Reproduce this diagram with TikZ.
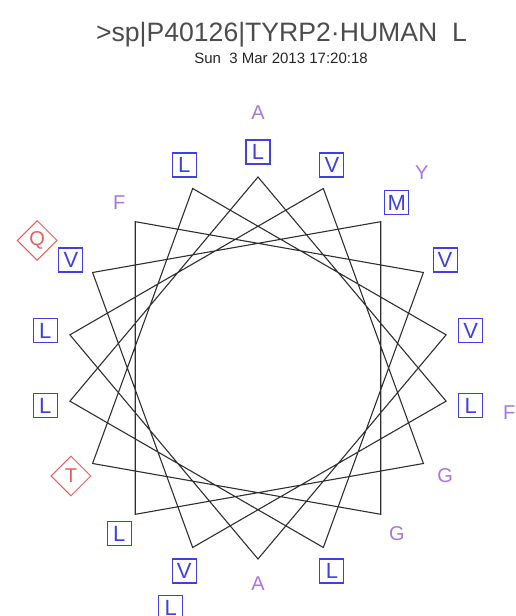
\documentclass[tikz,border=0pt]{standalone}
\usepackage{fontspec}
\setmainfont{Liberation Sans}
\usetikzlibrary{shapes.geometric}
\definecolor{hydblue}{RGB}{64,64,224}
\definecolor{othpurple}{RGB}{166,120,222}
\definecolor{polred}{RGB}{228,96,96}
\definecolor{wheelgray}{RGB}{48,48,48}
\begin{document}
\begin{tikzpicture}[x=1pt,y=1pt,
  wheel/.style={draw=wheelgray,line width=1.1pt,line join=miter},
  hyd/.style={draw=hydblue,text=hydblue,line width=1.1pt,minimum size=24pt,inner sep=0pt,font=\fontsize{22}{22}\selectfont},
  pol/.style={diamond,aspect=1,draw=polred,text=polred,line width=1pt,minimum size=40pt,inner sep=0pt,font=\fontsize{20}{20}\selectfont},
  oth/.style={text=othpurple,inner sep=0pt,font=\fontsize{20}{20}\selectfont}]
  \useasboundingbox (0,0) rectangle (516,616);
  \node[anchor=base,text=black!70,font=\fontsize{26.6}{30}\selectfont] (title) at (281.5,574) {>sp|P40126|TYRP2·HUMAN\ \ L};
  \node[anchor=base,text=black!85,font=\fontsize{15}{18}\selectfont] (date) at (281,552) {Sun\ \ 3 Mar 2013 17:20:18};
  \begin{scope}[shift={(258,248)}]
    % the wheel: residue k sits 100 degrees on from residue k-1
    \foreach \k in {0,...,17} \coordinate (v\k) at ({90-100*\k}:191);
    \draw[wheel] (v0) \foreach \k in {1,...,17} {-- (v\k)} -- cycle;
    % first turn of residues
    \foreach \n/\res/\s in {1/L/hyd,2/L/hyd,3/V/hyd,4/V/hyd,5/M/hyd,6/G/oth,7/T/pol,8/L/hyd,9/V/hyd,
        10/A/oth,11/L/hyd,12/V/hyd,13/G/oth,14/L/hyd,15/F/oth,16/V/hyd,17/L/hyd,18/L/hyd}
      \node[\s] (r\n) at ({190-100*\n}:216) {\res};
    % residues past 18 go on the outer ring
    \foreach \n/\res/\s in {19/A/oth,20/F/oth,21/L/hyd,22/Q/pol,23/Y/oth}
      \node[\s] (r\n) at ({190-100*\n}:255) {\res};
  \end{scope}
\end{tikzpicture}
\end{document}
